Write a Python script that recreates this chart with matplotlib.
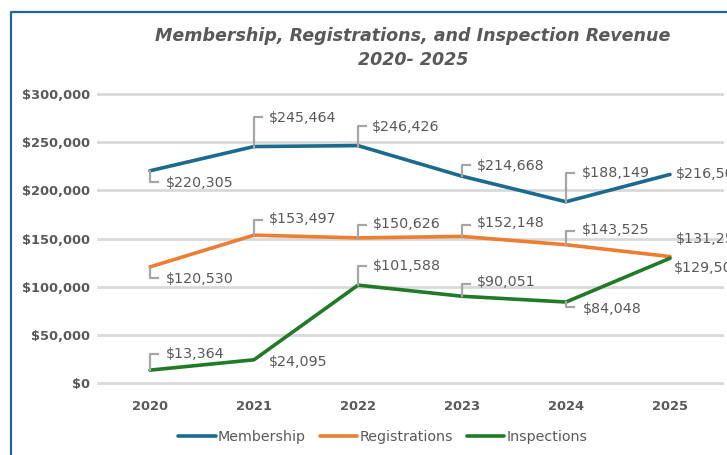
import matplotlib
matplotlib.use("Agg")
from matplotlib import pyplot as plt
from matplotlib.lines import Line2D
from matplotlib.ticker import FuncFormatter
import matplotlib.transforms as mtransforms

years = ["2020", "2021", "2022", "2023", "2024", "2025"]
membership = [220305, 245464, 246426, 214668, 188149, 216500]
registrations = [120530, 153497, 150626, 152148, 143525, 131250]
inspections = [13364, 24095, 101588, 90051, 84048, 129500]

labels_m = ["$220,305", "$245,464", "$246,426", "$214,668", "$188,149", "$216,500"]
labels_r = ["$120,530", "$153,497", "$150,626", "$152,148", "$143,525", "$131,250"]
labels_i = ["$13,364", "$24,095", "$101,588", "$90,051", "$84,048", "$129,500"]

# label placement in pixels: (text dx, text dy, leader height)
place_m = [(16, -12, -11), (15, 29, 30), (14, 19, 20), (15, 10, 11), (16, 29, 29), (6, 0, 0)]
place_r = [(16, -12, -11), (15, 16, 15), (15, 14, 13), (15, 13, 11), (16, 15, 14), (6, 18, 0)]
place_i = [(16, 16, 16), (15, -2, 0), (15, 19, 19), (15, 14, 12), (17, -7, -5), (4, -10, 0)]

W, H = 727, 455
fig = plt.figure(figsize=(W / 100, H / 100), dpi=100)
ax = fig.add_axes([98 / W, (H - 383) / H, 624 / W, 289 / H])

grey = "#595959"
colors = ["#1C6A8E", "#ED7D31", "#217A27"]
series = [membership, registrations, inspections]
names = ["Membership", "Registrations", "Inspections"]
all_labels = [labels_m, labels_r, labels_i]
all_place = [place_m, place_r, place_i]

x = list(range(len(years)))
handles = []
for vals, c, n in zip(series, colors, names):
    ln, = ax.plot(x, vals, color=c, lw=2.6, zorder=3, solid_capstyle="round",
                  solid_joinstyle="round", label=n)
    handles.append(ln)

ax.set_xlim(-0.5, 5.5)
ax.set_ylim(0, 300000)
ax.set_yticks(range(0, 300001, 50000))
ax.yaxis.set_major_formatter(FuncFormatter(lambda v, p: "${:,.0f}".format(v)))
ax.set_xticks(x)
ax.set_xticklabels(years)
for s in ax.spines.values():
    s.set_visible(False)
ax.yaxis.grid(True, color="#D9D9D9", lw=2)
for gl in ax.get_ygridlines():
    gl.set_clip_on(False)
ax.set_axisbelow(True)
ax.tick_params(length=0)
ax.tick_params(axis="y", pad=6)
ax.tick_params(axis="x", pad=12)
for t in ax.get_xticklabels() + ax.get_yticklabels():
    t.set_fontsize(9.4)
    t.set_fontweight("bold")
    t.set_color(grey)

# data labels with leader lines
for vals, labs, places in zip(series, all_labels, all_place):
    for i, (v, lab, (dx, dy, h)) in enumerate(zip(vals, labs, places)):
        ax.annotate(lab, xy=(i, v), xytext=(dx, dy), textcoords="offset pixels",
                    ha="left", va="center", fontsize=10.3, color=grey, zorder=4)
        if h != 0:
            tr = mtransforms.ScaledTranslation(i, v, ax.transData)
            fig.add_artist(Line2D([0, 0, 8], [0, h, h], transform=tr,
                                  color="#A6A6A6", lw=1.6, zorder=2))

fig.text(413 / W, 1 - 36 / H, "Membership, Registrations, and Inspection Revenue",
         ha="center", va="center", fontsize=12.6, fontweight="bold",
         style="italic", color=grey)
fig.text(413 / W, 1 - 60 / H, "2020- 2025", ha="center", va="center",
         fontsize=12.6, fontweight="bold", style="italic", color=grey)

leg = fig.legend(handles=handles, loc="center", bbox_to_anchor=(383 / W, 1 - 437 / H),
                 ncol=3, frameon=False, fontsize=10.3, handlelength=2.6,
                 handletextpad=0.15, columnspacing=1.0)
for t in leg.get_texts():
    t.set_color(grey)

# chart border
fig.add_artist(Line2D([11 / W, 11 / W, 1], [0, 1 - 12 / H, 1 - 12 / H],
                      transform=fig.transFigure, color="#1F6690", lw=1.6))

fig.savefig("out.png", dpi=100)
